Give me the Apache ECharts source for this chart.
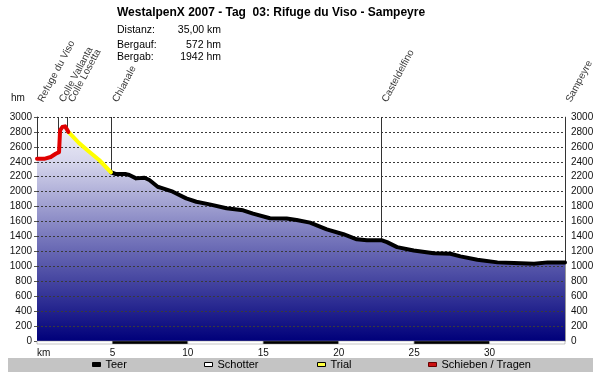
<!DOCTYPE html>
<html><head><meta charset="utf-8">
<script src="https://cdn.jsdelivr.net/npm/echarts@6/dist/echarts.min.js"></script>
<style>html,body{margin:0;padding:0;background:#fff}#c{width:600px;height:375px}</style>
</head><body><div id="c"></div>
<script>
// ---- data ----
const titleText = 'WestalpenX 2007 - Tag  03: Rifuge du Viso - Sampeyre';
const infoLabels = ['Distanz:', 'Bergauf:', 'Bergab:'];
const infoValues = ['35,00 km', '572 hm', '1942 hm'];

// Schieben / Tragen (red)
const pushKm   = [0, 0.47, 0.6, 0.91, 1.24, 1.46, 1.53, 1.68, 1.86, 2.02, 2.08];
const pushElev = [2440, 2440, 2428, 2464, 2508, 2530, 2820, 2866, 2875, 2821, 2800];
// Trial (yellow)
const trialKm   = [2.08, 2.79, 3.46, 4.12, 4.9];
const trialElev = [2800, 2650, 2535, 2424, 2260];
// Teer (black)
const roadKm   = [4.9, 5.24, 5.9, 6.12, 6.57, 7.12, 7.45, 8.0, 8.34, 9.0, 9.89, 10.56, 11.44, 12.56, 13.66, 14.32, 15.44, 16.55, 17.21, 18.1, 19.21, 20.31, 21.2, 21.87, 22.87, 23.2, 23.87, 24.97, 26.3, 27.41, 28.07, 29.19, 30.52, 31.62, 32.95, 33.85, 35];
const roadElev = [2260, 2236, 2236, 2223, 2178, 2187, 2156, 2066, 2045, 2000, 1910, 1865, 1830, 1778, 1750, 1705, 1644, 1640, 1621, 1585, 1496, 1430, 1362, 1349, 1349, 1324, 1257, 1213, 1176, 1169, 1133, 1089, 1053, 1044, 1036, 1053, 1053];

const placeNames = ['Refuge du Viso', 'Colle Vallanta', 'Colle Losetta', 'Chianale', 'Casteldelfino', 'Sampeyre'];
const placeKm    = [0, 1.42, 2.02, 4.95, 22.8, 35];
const placeElev  = [2440, 2530, 2821, 2258, 1349, 1053];

const legendNames = ['Teer', 'Schotter', 'Trial', 'Schieben / Tragen'];
const xTicks = [0, 5, 10, 15, 20, 25, 30, 35];
const xTickLabels = ['km', '5', '10', '15', '20', '25', '30', ''];
const yTicks = [0, 200, 400, 600, 800, 1000, 1200, 1400, 1600, 1800, 2000, 2200, 2400, 2600, 2800, 3000];

// ---- build ----
const zip = (a, b) => a.map((v, i) => [v, b[i]]);
const pushData = zip(pushKm, pushElev);
const trialData = zip(trialKm, trialElev);
const roadData = zip(roadKm, roadElev);
const profile = pushData.concat(trialData.slice(1), roadData.slice(1));
const scaleSegs = xTicks.slice(0, -1).map((k, i) => [k, xTicks[i + 1], i % 2]);

const FF = '"Liberation Sans", Arial, sans-serif';
const chart = echarts.init(document.getElementById('c'), null, {renderer: 'canvas'});

const legendStyles = [
  {color: '#000', borderColor: '#000', borderWidth: 1},
  {color: '#fff', borderColor: '#000', borderWidth: 1},
  {color: '#ffff40', borderColor: '#000', borderWidth: 1},
  {color: '#cc1010', borderColor: '#600', borderWidth: 1}
];
const legendLefts = [92, 204, 317, 428];

const lineBase = {type: 'line', symbol: 'none', silent: true, z: 5,
  lineStyle: {width: 4, join: 'round', cap: 'round'}};
const yLab = v => String(v);

chart.setOption({
  animation: false,
  textStyle: {fontFamily: FF},
  title: {text: titleText, left: 117, top: 7, padding: 0,
    textStyle: {fontSize: 12, fontWeight: 'bold', color: '#000', fontFamily: FF}},
  grid: {left: 37, right: 35, top: 117, bottom: 34},
  xAxis: {type: 'value', min: 0, max: 35, interval: 5,
    axisLine: {show: false}, axisTick: {show: false}, splitLine: {show: false},
    axisLabel: {margin: 7, fontSize: 10, color: '#111', alignMinLabel: 'left',
      formatter: v => xTickLabels[xTicks.indexOf(v)] ?? ''}},
  yAxis: [
    {type: 'value', min: 0, max: 3000, interval: 200, position: 'left',
      axisLine: {show: true, lineStyle: {color: '#555'}},
      axisTick: {show: true, length: 3, lineStyle: {color: '#555'}},
      splitLine: {show: false},
      axisLabel: {margin: 5, fontSize: 10, color: '#111', formatter: yLab}},
    {type: 'value', min: 0, max: 3000, interval: 200, position: 'right',
      axisLine: {show: true, lineStyle: {color: '#999'}},
      axisTick: {show: false}, splitLine: {show: false},
      axisLabel: {margin: 6, fontSize: 10, color: '#111', formatter: yLab}}
  ],
  legend: legendNames.map((n, i) => ({
    data: [{name: n, icon: 'rect', itemStyle: legendStyles[i]}],
    left: legendLefts[i], top: 359, padding: 0, itemWidth: 8, itemHeight: 4,
    selectedMode: false, textStyle: {fontSize: 11, color: '#000', fontFamily: FF}
  })),
  graphic: [
    {type: 'rect', z: -10, shape: {x: 8, y: 358, width: 585, height: 14}, style: {fill: '#c4c4c4'}},
    {type: 'text', x: 11, y: 98, style: {text: 'hm', fontSize: 10, fill: '#111', verticalAlign: 'middle', fontFamily: FF}},
    ...infoLabels.map((t, i) => ({type: 'text', x: 117, y: [30, 45, 57][i],
      style: {text: t, fontSize: 10.5, fill: '#000', verticalAlign: 'middle', fontFamily: FF}})),
    ...infoValues.map((t, i) => ({type: 'text', x: 221, y: [30, 45, 57][i],
      style: {text: t, fontSize: 10.5, fill: '#000', align: 'right', verticalAlign: 'middle', fontFamily: FF}}))
  ],
  series: [
    {type: 'line', data: profile, symbol: 'none', silent: true, z: 1,
      lineStyle: {width: 0},
      areaStyle: {opacity: 1, color: new echarts.graphic.LinearGradient(0, 117, 0, 341, [
        {offset: 0, color: '#f6f6fb'},
        {offset: 0.2, color: '#d6d6ec'},
        {offset: 0.55, color: '#7474ba'},
        {offset: 1, color: '#00007a'}], true)}},
    {type: 'line', data: [], silent: true, z: 2,
      markLine: {silent: true, symbol: ['none', 'none'], label: {show: false},
        lineStyle: {color: '#3a3a3a', width: 1, type: [2, 2]},
        data: yTicks.filter(v => v > 0).map(v => ({yAxis: v}))}},
    Object.assign({}, lineBase, {name: 'Teer', data: roadData, lineStyle: Object.assign({}, lineBase.lineStyle, {color: '#000'}), itemStyle: {color: '#000'}}),
    {type: 'line', name: 'Schotter', data: [], itemStyle: {color: '#fff'}},
    Object.assign({}, lineBase, {name: 'Trial', data: trialData, lineStyle: Object.assign({}, lineBase.lineStyle, {color: '#ffff00'}), itemStyle: {color: '#ffff00'}}),
    Object.assign({}, lineBase, {name: 'Schieben / Tragen', data: pushData, lineStyle: Object.assign({}, lineBase.lineStyle, {color: '#e00000'}), itemStyle: {color: '#e00000'}}),
    {type: 'scatter', silent: true, z: 3, symbolSize: 1, itemStyle: {color: 'transparent'},
      data: placeKm.map((k, i) => ({value: [k, 3000], name: placeNames[i]})),
      label: {show: true, formatter: '{b}', rotate: 62, align: 'left', verticalAlign: 'middle',
        position: [4, -15], fontSize: 10, color: '#000', fontFamily: FF},
      markLine: {silent: true, symbol: ['none', 'none'], label: {show: false},
        lineStyle: {color: '#333', width: 1, type: 'solid'},
        data: placeKm.map((k, i) => [{coord: [k, placeElev[i]]}, {coord: [k, 3000]}])}},
    {type: 'custom', silent: true, clip: false, z: 6, encode: {x: [0, 1], y: 2},
      data: scaleSegs,
      renderItem: (params, api) => {
        const a = api.coord([api.value(0), 0]);
        const b = api.coord([api.value(1), 0]);
        return {type: 'rect', shape: {x: a[0], y: a[1], width: b[0] - a[0], height: 3},
          style: {fill: api.value(2) ? '#000' : '#fff', stroke: '#888', lineWidth: 0.5}};
      }}
  ]
});
</script></body></html>
